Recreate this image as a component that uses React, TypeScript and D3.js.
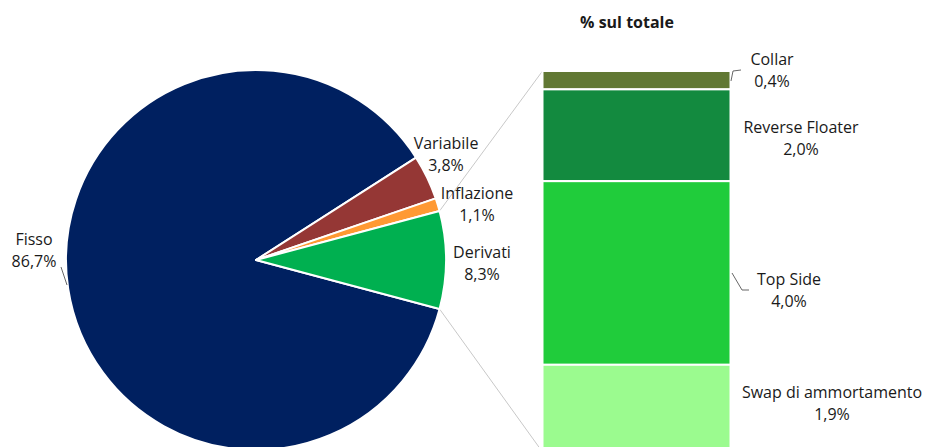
import React from "react";
import * as d3 from "d3";

const pieCategories = ["Fisso", "Variabile", "Inflazione", "Derivati"];
const pieValues = [86.7, 3.8, 1.1, 8.3];
const pieLabels = ["86,7%", "3,8%", "1,1%", "8,3%"];
const pieColors = ["#002060", "#953735", "#FF9933", "#00B050"];

const barCategories = ["Collar", "Reverse Floater", "Top Side", "Swap di ammortamento"];
const barValues = [0.4, 2.0, 4.0, 1.9];
const barLabels = ["0,4%", "2,0%", "4,0%", "1,9%"];
const barColors = ["#617833", "#138A3F", "#20CC3B", "#9BFB8F"];

const title = "% sul totale";

const W = 927;
const H = 447;
const cx = 256;
const cy = 260;
const R = 190;
const FONT = "'Open Sans', Lato, sans-serif";
const FS = 16;

// label anchors (layout)
const pieLabelPos: Record<string, [number, number]> = {
  Fisso: [34, 245],
  Variabile: [446, 149],
  Inflazione: [477, 199],
  Derivati: [482, 258],
};
const barLabelPos: Record<string, [number, number]> = {
  Collar: [772, 65],
  "Reverse Floater": [801, 133],
  "Top Side": [789, 285],
  "Swap di ammortamento": [832, 398],
};

export default function App() {
  const total = d3.sum(pieValues);
  const derivIdx = 3;
  const derivAngle = (pieValues[derivIdx] / total) * 2 * Math.PI;
  const start = Math.PI / 2 + derivAngle / 2;
  const pie = d3
    .pie<number>()
    .sort(null)
    .startAngle(start)
    .endAngle(start + 2 * Math.PI)
    .value((d) => d);
  const arcs = pie(pieValues);
  const arc = d3.arc<d3.PieArcDatum<number>>().innerRadius(0).outerRadius(R);

  const pt = (a: number): [number, number] => [cx + R * Math.sin(a), cy - R * Math.cos(a)];
  const dArc = arcs[derivIdx];
  const pTop = pt(dArc.startAngle);
  const pBot = pt(dArc.endAngle);

  const barX0 = 542.5;
  const barX1 = 730.5;
  const barTotal = d3.sum(barValues);
  const y = d3.scaleLinear().domain([0, barTotal]).range([71, 452]);
  const cum: number[] = [];
  barValues.reduce((acc, v, i) => {
    cum[i] = acc;
    return acc + v;
  }, 0);

  return (
    <svg width={W} height={H} style={{ display: "block", position: "absolute", left: 0, top: 0 }}>
      <rect width={W} height={H} fill="#fff" />
      {/* connector lines */}
      <line x1={pTop[0]} y1={pTop[1]} x2={barX0} y2={y(0)} stroke="#C8C8C8" strokeWidth={1} />
      <line x1={pBot[0]} y1={pBot[1]} x2={barX0} y2={y(barTotal)} stroke="#C8C8C8" strokeWidth={1} />
      {/* pie */}
      <g transform={`translate(${cx},${cy})`}>
        {arcs.map((a, i) => (
          <path key={pieCategories[i]} d={arc(a) || ""} fill={pieColors[i]} stroke="#fff" strokeWidth={2} strokeLinejoin="round" />
        ))}
      </g>
      {/* pie labels */}
      {pieCategories.map((c, i) => {
        const [lx, ly] = pieLabelPos[c];
        return (
          <text key={c} x={lx} y={ly} textAnchor="middle" fontFamily={FONT} fontSize={FS} fill="#1a1a1a">
            <tspan x={lx}>{c}</tspan>
            <tspan x={lx} dy={22}>{pieLabels[i]}</tspan>
          </text>
        );
      })}
      {/* Fisso leader */}
      <polyline points="61,267 67,285" fill="none" stroke="#404040" strokeWidth={0.8} />
      {/* bar */}
      {barValues.map((v, i) => (
        <rect
          key={barCategories[i]}
          x={barX0}
          y={y(cum[i])}
          width={barX1 - barX0}
          height={y(cum[i] + v) - y(cum[i])}
          fill={barColors[i]}
          stroke="#fff"
          strokeWidth={2}
        />
      ))}
      {/* bar leaders */}
      <polyline points="731,81 733,71 741,70" fill="none" stroke="#404040" strokeWidth={0.8} />
      <polyline points="732,273 742,290 749,290" fill="none" stroke="#404040" strokeWidth={0.8} />
      {barCategories.map((c, i) => {
        const [lx, ly] = barLabelPos[c];
        return (
          <text key={c} x={lx} y={ly} textAnchor="middle" fontFamily={FONT} fontSize={FS} fill="#1a1a1a">
            <tspan x={lx}>{c}</tspan>
            <tspan x={lx} dy={22}>{barLabels[i]}</tspan>
          </text>
        );
      })}
      <text x={627} y={28} textAnchor="middle" fontFamily={FONT} fontSize={16} fontWeight="bold" fill="#1a1a1a">
        {title}
      </text>
    </svg>
  );
}
